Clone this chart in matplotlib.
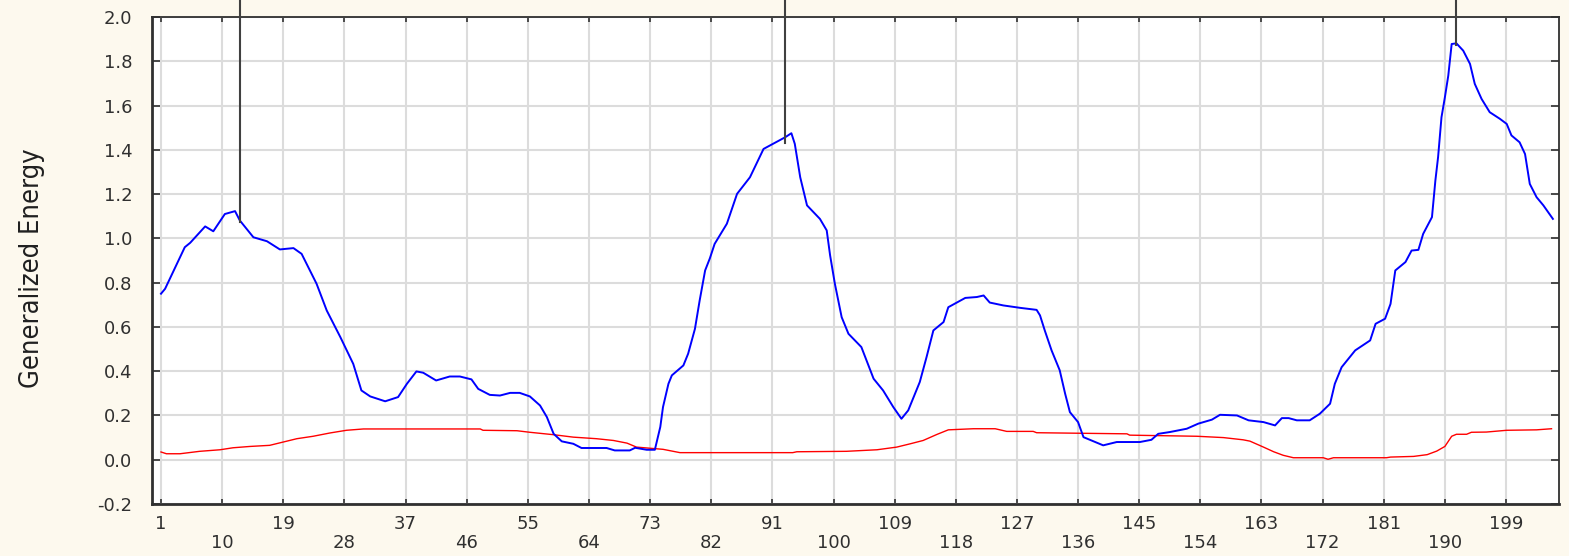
import matplotlib
matplotlib.use('Agg')
import matplotlib.pyplot as plt
from matplotlib import font_manager

# values
blue_x = [1, 1.6, 4.5, 5.3, 7.5, 8.7, 10.4, 11.9, 12.6, 14.6,
          16.6, 18.5, 20.5, 21.7, 23.9, 25.4, 27.4, 29.3, 30.5, 31.8,
          34.0, 35.9, 37.2, 38.6, 39.6, 41.5, 43.5, 45.0, 46.7, 47.7,
          49.4, 50.9, 52.4, 53.8, 55.3, 56.8, 57.8, 58.8, 60.0, 61.7,
          62.9, 66.6, 67.8, 70.0, 70.8, 72.5, 73.7, 74.5, 74.9, 75.7,
          76.2, 77.9, 78.6, 79.6, 80.3, 81.1, 81.8, 82.5, 84.3, 85.8,
          87.7, 89.7, 91.1, 92.9, 93.8, 94.3, 95.1, 96.1, 98.0, 99.0,
          99.5, 100.2, 101.2, 102.2, 104.1, 105.9, 107.3, 108.8, 110.0, 111.0,
          112.7, 113.7, 114.7, 116.2, 116.9, 119.4, 121.1, 122.1, 123.0, 125.0,
          127.5, 129.9, 130.4, 131.1, 132.1, 133.3, 134.1, 134.8, 136.0, 136.8,
          139.7, 141.7, 145.1, 146.8, 147.8, 149.5, 152.0, 153.7, 155.7, 156.9,
          159.4, 161.1, 163.3, 165.0, 166.0, 167.0, 168.2, 170.1, 171.6, 173.1,
          173.8, 174.8, 176.8, 179.0, 179.8, 181.2, 182.0, 182.7, 184.2, 185.1,
          186.1, 186.8, 188.1, 188.6, 189.0, 189.5, 190.0, 190.5, 191.0, 191.7,
          192.7, 193.7, 194.4, 195.4, 196.6, 198.1, 199.1, 199.8, 201.0, 201.8,
          202.5, 203.5, 204.5, 205.9]
blue_y = [0.75, 0.772, 0.96, 0.98, 1.054, 1.032, 1.11, 1.123, 1.081, 1.005,
          0.987, 0.95, 0.956, 0.93, 0.795, 0.674, 0.554, 0.433, 0.313, 0.286,
          0.264, 0.283, 0.343, 0.399, 0.393, 0.358, 0.376, 0.376, 0.363, 0.32,
          0.293, 0.29, 0.302, 0.302, 0.286, 0.245, 0.193, 0.117, 0.083, 0.072,
          0.053, 0.053, 0.042, 0.042, 0.054, 0.045, 0.045, 0.148, 0.238, 0.343,
          0.381, 0.426, 0.479, 0.591, 0.72, 0.855, 0.91, 0.975, 1.066, 1.201,
          1.276, 1.404, 1.427, 1.457, 1.475, 1.427, 1.276, 1.149, 1.088, 1.036,
          0.923, 0.795, 0.644, 0.569, 0.509, 0.366, 0.313, 0.238, 0.185, 0.223,
          0.351, 0.464, 0.584, 0.622, 0.689, 0.731, 0.735, 0.742, 0.71, 0.697,
          0.686, 0.677, 0.652, 0.584, 0.494, 0.404, 0.298, 0.215, 0.17, 0.102,
          0.065, 0.08, 0.08, 0.09, 0.117, 0.125, 0.14, 0.163, 0.181, 0.203,
          0.2, 0.178, 0.17, 0.155, 0.188, 0.188, 0.178, 0.178, 0.208, 0.253,
          0.343, 0.418, 0.494, 0.539, 0.614, 0.637, 0.704, 0.855, 0.893, 0.945,
          0.948, 1.02, 1.096, 1.261, 1.367, 1.547, 1.637, 1.735, 1.878, 1.881,
          1.848, 1.788, 1.698, 1.63, 1.57, 1.54, 1.517, 1.465, 1.434, 1.381,
          1.246, 1.186, 1.149, 1.088]

red_x = [1, 1.8, 3.8, 6.7, 9.7, 11.6, 14.1, 17.0, 19.0, 21.0,
         23.4, 25.9, 28.3, 30.8, 48.0, 48.4, 53.4, 55.3, 58.8, 61.7,
         65.1, 67.6, 69.6, 71.0, 74.9, 77.4, 94.0, 94.6, 101.9, 106.4,
         109.3, 111.3, 113.2, 115.2, 116.9, 120.6, 123.8, 125.5, 129.4, 129.9,
         143.2, 143.6, 153.5, 157.4, 160.3, 161.3, 163.3, 164.8, 166.2, 167.7,
         172.1, 172.8, 173.6, 181.4, 182.0, 185.4, 187.4, 188.8, 190.0, 191.0,
         191.7, 193.2, 193.9, 196.1, 199.1, 203.5, 205.7]
red_y = [0.035, 0.027, 0.027, 0.038, 0.045, 0.054, 0.06, 0.065, 0.08, 0.095,
         0.106, 0.121, 0.133, 0.139, 0.139, 0.133, 0.131, 0.124, 0.113, 0.102,
         0.095, 0.087, 0.075, 0.057, 0.047, 0.032, 0.032, 0.036, 0.038, 0.045,
         0.057, 0.072, 0.087, 0.114, 0.135, 0.14, 0.14, 0.128, 0.128, 0.122,
         0.117, 0.111, 0.106, 0.1, 0.09, 0.084, 0.057, 0.036, 0.02, 0.009,
         0.009, 0.002, 0.009, 0.009, 0.012, 0.015, 0.023, 0.039, 0.06, 0.106,
         0.115, 0.115, 0.124, 0.125, 0.133, 0.135, 0.14]

# peak markers (vertical lines coming from the top)
peak_x = [12.7, 92.9, 191.7]
peak_y = [1.074, 1.433, 1.872]

x_ticks = list(range(1, 200, 9))
x_labels = [str(t) if i % 2 == 0 else '\n' + str(t) for i, t in enumerate(x_ticks)]
y_ticks = [-0.2, 0.0, 0.2, 0.4, 0.6, 0.8, 1.0, 1.2, 1.4, 1.6, 1.8, 2.0]

names = {f.name for f in font_manager.fontManager.ttflist}
label_family = 'Liberation Sans Narrow' if 'Liberation Sans Narrow' in names else 'DejaVu Sans'

fig = plt.figure(figsize=(15.69, 5.56), dpi=100)
fig.patch.set_facecolor('#fdf9ee')
ax = fig.add_axes([152 / 1569, 1 - 504 / 556, 1407 / 1569, 487 / 556])
ax.set_facecolor('white')

ax.plot(red_x, red_y, color='#ff0000', linewidth=1.0, zorder=3)
ax.plot(blue_x, blue_y, color='#0000ff', linewidth=1.4, zorder=4)
for px, py in zip(peak_x, peak_y):
    ax.plot([px, px], [py, 2.3], color='#404040', linewidth=1.5, clip_on=False, zorder=5)

ax.set_xlim(-0.325, 206.8)
ax.set_ylim(-0.2, 2.0)
ax.set_xticks(x_ticks)
ax.set_xticklabels(x_labels, linespacing=1.05)
ax.set_yticks(y_ticks)
ax.set_yticklabels(['%.1f' % v for v in y_ticks])

ax.grid(True, color='#dcdcdc', linewidth=1.5)
ax.set_axisbelow(True)
ax.tick_params(axis='both', direction='in', top=True, right=True,
               labelsize=13, labelcolor='#303030', color='#303030')
ax.tick_params(axis='x', length=3.5, width=1.2, pad=8)
ax.tick_params(axis='y', length=6, width=1.2, pad=14)
for lab in ax.get_xticklabels():
    lab.set_verticalalignment('top')
for side in ['left', 'bottom']:
    ax.spines[side].set_linewidth(2.0)
    ax.spines[side].set_color('#303030')
for side in ['top', 'right']:
    ax.spines[side].set_linewidth(1.3)
    ax.spines[side].set_color('#303030')

fig.text(32 / 1569, 1 - 268 / 556, 'Generalized Energy', rotation=90,
         ha='center', va='center', fontsize=19.5, color='#202020',
         family=label_family, fontstretch='condensed')

plt.savefig('out.png', dpi=100, facecolor=fig.get_facecolor())
